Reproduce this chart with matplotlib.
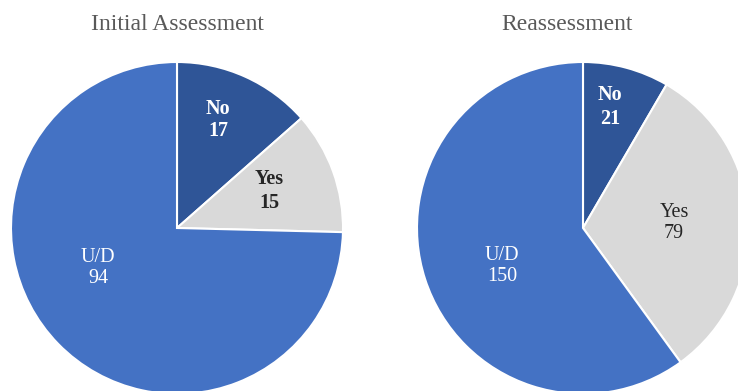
import matplotlib.pyplot as plt

plt.rcParams['font.family'] = ['Liberation Serif', 'DejaVu Serif']

categories = ['No', 'Yes', 'U/D']
initial = [17, 15, 94]
reassess = [21, 79, 150]
titles = ['Initial Assessment', 'Reassessment']
colors = ['#2F5597', '#D9D9D9', '#4472C4']

W, H = 738, 391
fig = plt.figure(figsize=(W / 100, H / 100), dpi=100)
ax = fig.add_axes([0, 0, 1, 1])

# layout in pixels, measured from top-left of the picture
centers = [(177, 228), (583, 228)]
R = 166
title_x = [177, 567]
label_pos = [[(218, 120), (269, 191), (98, 268)],
             [(610, 107), (674, 223), (502, 266)]]
label_bold = [[True, True, False], [True, False, False]]
text_col = ['white', '#262626', 'white']

for k, vals in enumerate([initial, reassess]):
    cx, cy = centers[k]
    ax.pie(vals, colors=colors, startangle=90, counterclock=False, radius=R,
           center=(cx, H - cy), wedgeprops=dict(edgecolor='white', linewidth=1.5))
    for i, (c, v) in enumerate(zip(categories, vals)):
        x, y = label_pos[k][i]
        ax.text(x, H - y, f'{c}\n{v}', ha='center', va='center', fontsize=14.5,
                color=text_col[i], linespacing=1.2,
                fontweight='bold' if label_bold[k][i] else 'normal')
    fig.text(title_x[k] / W, 1 - 25 / H, titles[k], ha='center', va='center',
             fontsize=17, color='#595959')

ax.set_xlim(0, W); ax.set_ylim(0, H)
ax.set_aspect('auto')
ax.axis('off')
fig.savefig('out.png', dpi=100)
